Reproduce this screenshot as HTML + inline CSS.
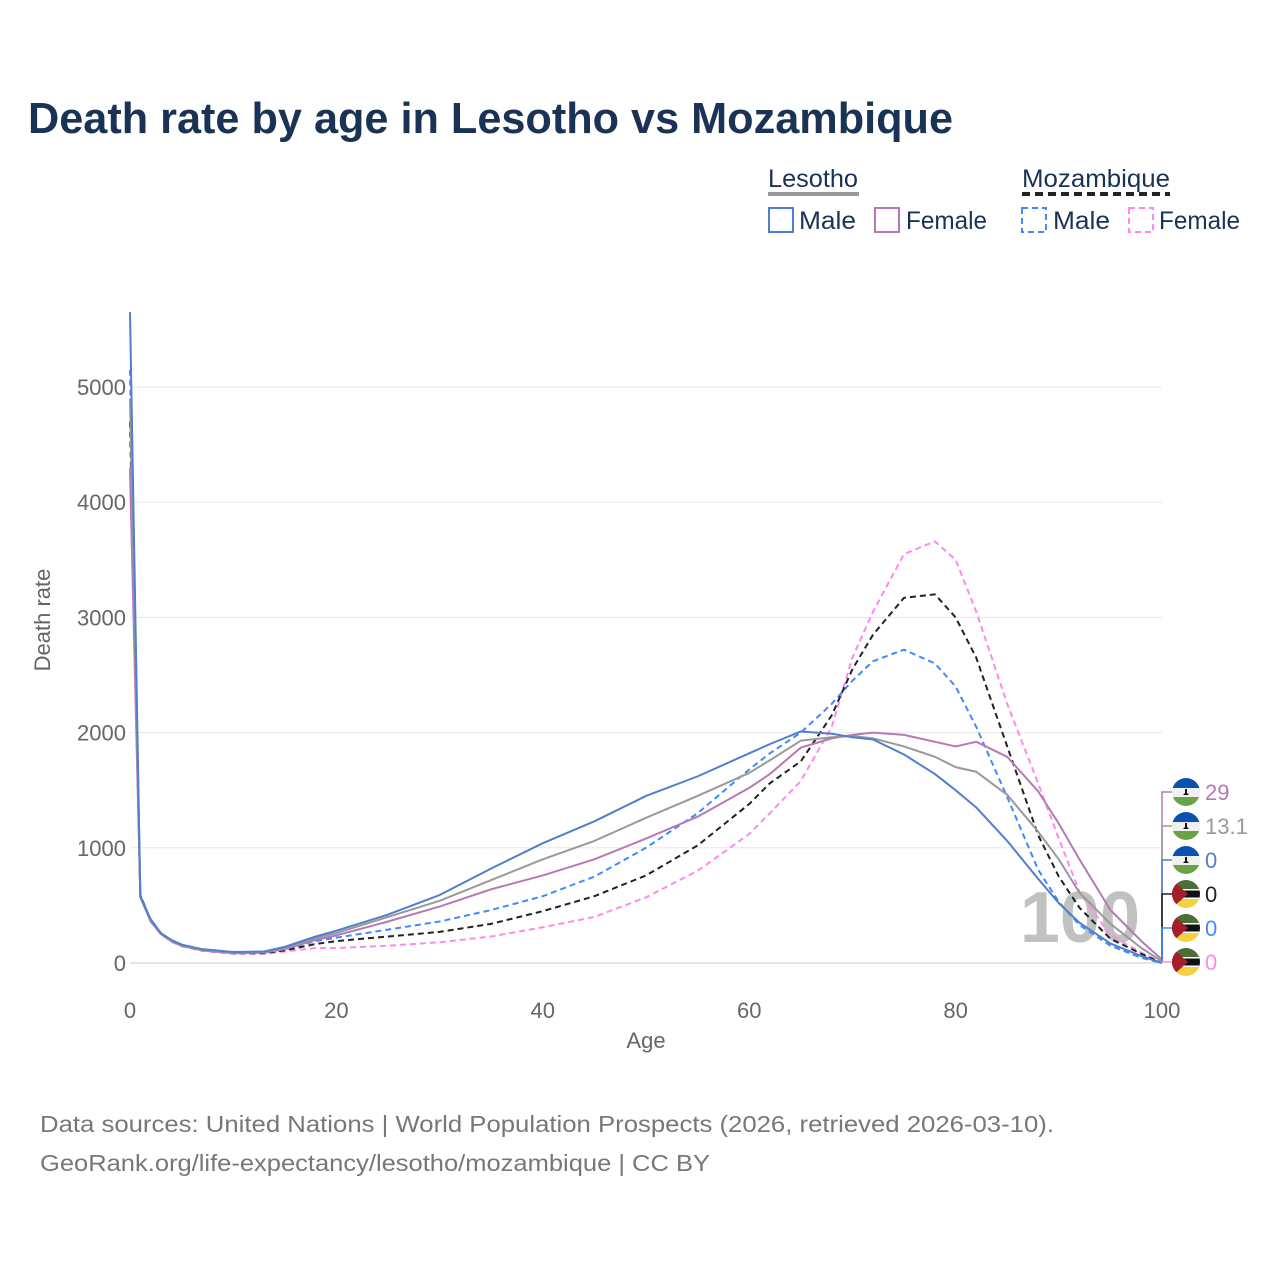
<!DOCTYPE html>
<html><head><meta charset="utf-8"><style>
body{margin:0;background:#fff;font-family:"Liberation Sans",sans-serif}
svg text{font-family:"Liberation Sans",sans-serif}
</style></head><body>
<svg id="chart" width="1280" height="1280" viewBox="0 0 1280 1280" xmlns="http://www.w3.org/2000/svg">
<rect width="1280" height="1280" fill="#fff"/>
<text x="28" y="133" font-size="44" font-weight="bold" fill="#1a3355" textLength="925" lengthAdjust="spacingAndGlyphs">Death rate by age in Lesotho vs Mozambique</text>
<g fill="#1a3355" font-size="25">
<text x="768" y="187" textLength="90" lengthAdjust="spacingAndGlyphs">Lesotho</text>
<line x1="768" y1="194" x2="859" y2="194" stroke="#999" stroke-width="4"/>
<text x="1022" y="187" textLength="148" lengthAdjust="spacingAndGlyphs">Mozambique</text>
<line x1="1022" y1="194" x2="1170" y2="194" stroke="#222" stroke-width="4" stroke-dasharray="8,5"/>
<rect x="769" y="208" width="24" height="24" fill="none" stroke="#4f7fd0" stroke-width="2"/>
<text x="799" y="229" textLength="57" lengthAdjust="spacingAndGlyphs">Male</text>
<rect x="875" y="208" width="24" height="24" fill="none" stroke="#b57ab5" stroke-width="2"/>
<text x="906" y="229" textLength="81" lengthAdjust="spacingAndGlyphs">Female</text>
<rect x="1022" y="208" width="24" height="24" fill="none" stroke="#3d8bff" stroke-width="2" stroke-dasharray="6,4"/>
<text x="1053" y="229" textLength="57" lengthAdjust="spacingAndGlyphs">Male</text>
<rect x="1129" y="208" width="24" height="24" fill="none" stroke="#ff88ee" stroke-width="2" stroke-dasharray="6,4"/>
<text x="1159" y="229" textLength="81" lengthAdjust="spacingAndGlyphs">Female</text>
</g>
<g id="grid"></g>
<text x="1140" y="942" font-size="72" font-weight="bold" fill="#bbb" text-anchor="end" opacity="0.9">100</text>
<g id="series"></g>
<g id="labels"></g>
<text transform="translate(50,620) rotate(-90)" font-size="22" fill="#666" text-anchor="middle">Death rate</text>
<text x="646" y="1048" font-size="22" fill="#666" text-anchor="middle">Age</text>
<text x="40" y="1132" font-size="23" fill="#777" textLength="1014" lengthAdjust="spacingAndGlyphs">Data sources: United Nations | World Population Prospects (2026, retrieved 2026-03-10).</text>
<text x="40" y="1171" font-size="23" fill="#777" textLength="670" lengthAdjust="spacingAndGlyphs">GeoRank.org/life-expectancy/lesotho/mozambique | CC BY</text>
</svg>
<script>
const ages=[0,1,2,3,4,5,7,10,13,15,18,20,25,30,35,40,45,50,55,60,62,65,68,70,72,75,78,80,82,85,88,90,92,95,98,100];
const lesMale=[5650,580,380,260,200,160,120,95,100,140,230,280,420,590,820,1040,1230,1450,1620,1820,1900,2010,1990,1960,1940,1810,1640,1500,1350,1060,730,520,350,170,60,0];
const lesTotal=[4900,580,370,255,195,155,115,90,95,130,215,260,400,540,720,900,1060,1260,1450,1650,1760,1930,1960,1970,1950,1880,1790,1700,1660,1460,1140,900,610,340,130,13];
const lesFemale=[4300,570,360,250,190,150,110,85,90,120,200,240,360,490,640,760,900,1080,1270,1520,1640,1870,1950,1980,2000,1980,1920,1880,1920,1790,1490,1210,900,460,190,29];
const mozMale=[5150,590,370,255,195,150,110,88,90,120,190,220,290,360,460,580,750,1000,1300,1680,1820,2000,2250,2450,2620,2720,2600,2400,2050,1440,810,530,330,150,45,0];
const mozTotal=[4700,590,370,255,190,150,110,85,85,110,165,190,230,270,340,450,580,760,1020,1380,1560,1750,2150,2550,2850,3170,3200,3000,2650,1880,1110,750,480,210,80,0];
const mozFemale=[4250,580,360,250,185,145,105,80,80,100,130,130,150,180,230,310,400,570,800,1120,1300,1580,2050,2650,3050,3550,3660,3500,3050,2250,1560,1080,620,240,90,0];
const yTicks=[0,1000,2000,3000,4000,5000];
const xTicks=[0,20,40,60,80,100];
const endLabels=["29","13.1","0","0","0","0"];
const NS="http://www.w3.org/2000/svg";
const X=a=>130+a*10.32, Y=v=>963-v*0.1152;
function mk(tag,parent,attrs){const e=document.createElementNS(NS,tag);for(const k in attrs)e.setAttribute(k,attrs[k]);parent.appendChild(e);return e;}
const grid=document.getElementById('grid');
yTicks.forEach(t=>{
 const l=mk('line',grid,{x1:130,x2:1162,y1:Y(t),y2:Y(t),stroke:t===0?'#ccc':'#e8e8e8','stroke-width':1});
 
 
 const tx=mk('text',grid,{x:126,y:Y(t)+8,'font-size':22,fill:'#666','text-anchor':'end'});
 tx.textContent=t;
 
 
});
xTicks.forEach(t=>{
 const tx=mk('text',grid,{x:X(t),y:1018,'font-size':22,fill:'#666','text-anchor':'middle'});
 tx.textContent=t;
 
 
});
const series=[
 {d:mozFemale,c:'#ff88ee',dash:'6,4',n:'mozambique-female-line'},
 {d:mozMale,c:'#3d8bff',dash:'6,4',n:'mozambique-male-line'},
 {d:mozTotal,c:'#222',dash:'6,4',n:'mozambique-total-line'},
 {d:lesFemale,c:'#b57ab5',dash:'',n:'lesotho-female-line'},
 {d:lesTotal,c:'#999',dash:'',n:'lesotho-total-line'},
 {d:lesMale,c:'#4f7fd0',dash:'',n:'lesotho-male-line'}];
const sg=document.getElementById('series');
series.forEach(s=>{
 const p=mk('polyline',sg,{points:ages.map((a,i)=>X(a)+','+Y(s.d[i])).join(' '),fill:'none',stroke:s.c,'stroke-width':2,'stroke-dasharray':s.dash,'stroke-linejoin':'round'});
 
 
});
const lg=document.getElementById('labels');
const lab=[{c:'#b57ab5',f:'ls'},{c:'#999',f:'ls'},{c:'#4f7fd0',f:'ls'},{c:'#222',f:'mz'},{c:'#3d8bff',f:'mz'},{c:'#ff88ee',f:'mz'}];
const ly=[792,826,860,894,928,962];
lab.forEach((o,i)=>{
 mk('path',lg,{d:`M1162,963 L1162,${ly[i]} L1172,${ly[i]}`,fill:'none',stroke:o.c,'stroke-width':1.5});
 const g=mk('g',lg,{transform:`translate(1186,${ly[i]})`});
 
 
 const cp=mk('clipPath',g,{id:'cp'+i});
 mk('circle',cp,{cx:0,cy:0,r:14});
 const cg=mk('g',g,{'clip-path':`url(#cp${i})`});
 if(o.f==='ls'){
  mk('rect',cg,{x:-14,y:-14,width:28,height:10,fill:'#0a52b0'});
  mk('rect',cg,{x:-14,y:-4,width:28,height:9,fill:'#f0f0f0'});
  mk('rect',cg,{x:-14,y:5,width:28,height:9,fill:'#6aa345'});
  mk('path',cg,{d:'M-1,-3 L1,-3 L1,1 L3,3 L-3,3 L-1,1Z',fill:'#111'});
 }else{
  mk('rect',cg,{x:-14,y:-14,width:28,height:9,fill:'#4a6e35'});
  mk('rect',cg,{x:-14,y:-5,width:28,height:10,fill:'#111'});
  mk('rect',cg,{x:-14,y:-5,width:28,height:1.5,fill:'#fff'});
  mk('rect',cg,{x:-14,y:3.5,width:28,height:1.5,fill:'#fff'});
  mk('rect',cg,{x:-14,y:5,width:28,height:9,fill:'#f5d040'});
  mk('path',cg,{d:'M-14,-14 L2,0 L-14,14Z',fill:'#a51e2a'});
 }
 const t=mk('text',lg,{x:1205,y:ly[i]+8,'font-size':22,fill:o.c});
 t.textContent=endLabels[i];
 
 
});
</script>
</body></html>
